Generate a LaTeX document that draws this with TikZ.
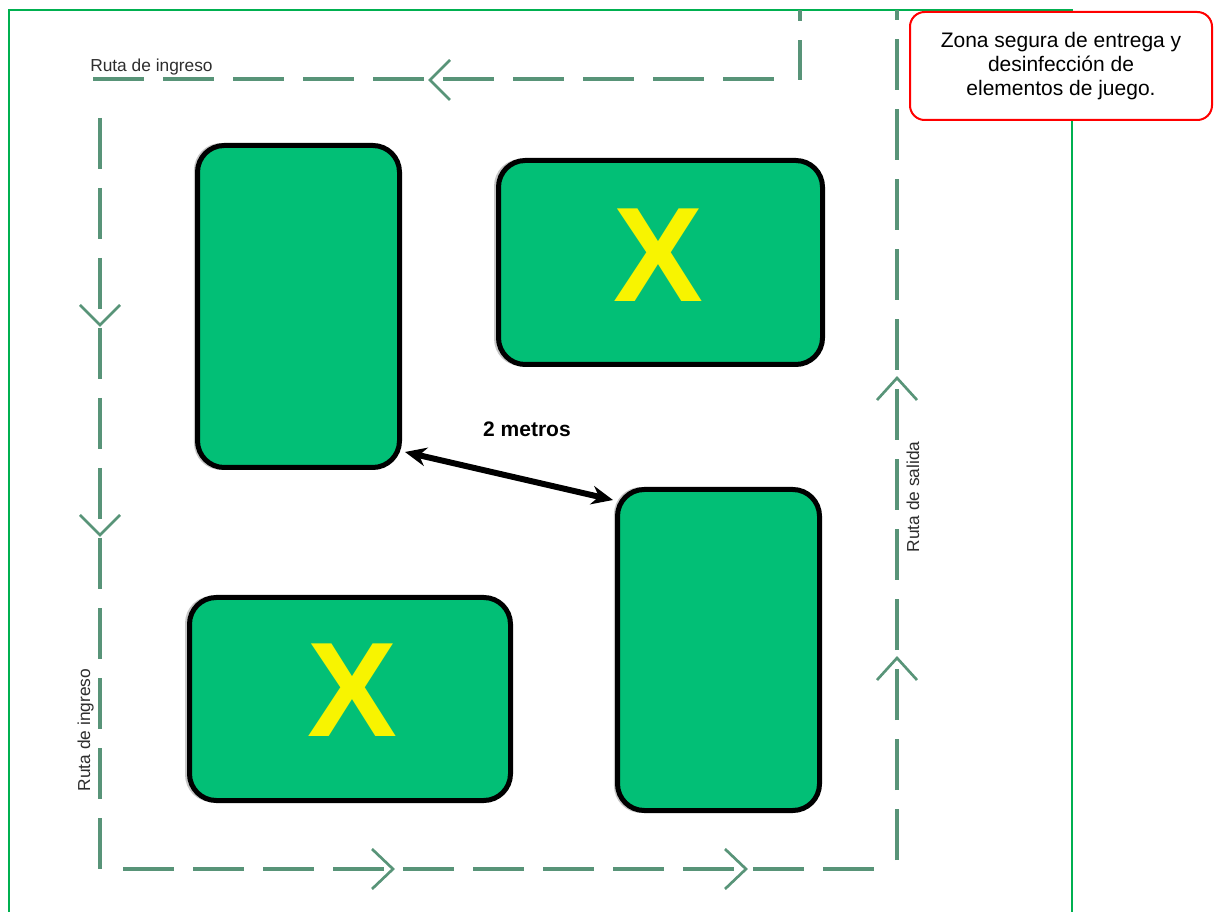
\documentclass[tikz,border=0pt]{standalone}
\usepackage{fontspec}
\setmainfont{Liberation Sans}
\usetikzlibrary{arrows.meta,shadows}

\definecolor{marco}{RGB}{0,176,80}
\definecolor{verderuta}{RGB}{88,148,120}
\definecolor{verdemesa}{RGB}{2,191,118}
\definecolor{amarillo}{RGB}{248,244,0}
\definecolor{rotulo}{RGB}{45,45,45}

\begin{document}
\begin{tikzpicture}[x=0.75pt, y=-0.75pt,
  camino/.style={draw=verderuta, line width=3.2pt, dash pattern=on 38.25pt off 14.25pt},
  punta/.style={draw=verderuta, line width=2pt},
  mesa/.style={draw=black, line width=3.75pt, fill=verdemesa, rounded corners=20pt,
    inner sep=0pt, general shadow={fill=black!22, shadow xshift=-1.5pt, shadow scale=1.015}},
  equis/.style={text=amarillo, inner sep=0pt, font=\fontsize{101}{101}\selectfont\bfseries},
  etiqueta/.style={text=rotulo, inner sep=0pt, font=\fontsize{13}{15}\selectfont},
  zona/.style={draw=red, line width=1.5pt, fill=white, rounded corners=11pt, inner sep=0pt,
    align=center, minimum width=226.5pt, minimum height=81pt,
    font=\fontsize{15.75}{18}\selectfont}]
  \useasboundingbox (0,0) rectangle (1214,912);

  % Frame of the field
  \draw[marco, line width=1.5pt] (9,912) -- (9,10) -- (1072,10) -- (1072,912);

  % Routes
  \draw[camino] (93,79) -- (776,79);
  \draw[camino, dash phase=8.25pt] (800,80) -- (800,10);
  \draw[camino] (100,118) -- (100,873);
  \draw[camino] (123,869) -- (875,869);
  \draw[camino] (897,860) -- (897,10);

  % Direction marks
  \draw[punta] (450,60) -- (430,80) -- (450,100);
  \foreach \y in {325,535}
    \draw[punta] (80,\y-20) -- (100,\y) -- (120,\y-20);
  \foreach \x in {393,746}
    \draw[punta] (\x-21,849) -- (\x,869) -- (\x-21,889);
  \foreach \y in {378,658}
    \draw[punta] (877,\y+22) -- (897,\y) -- (917,\y+22);

  % Route labels
  \node[etiqueta, anchor=base west] (rutaA) at (90,72) {Ruta de ingreso};
  \node[etiqueta, anchor=base, rotate=90] (rutaB) at (90,730) {Ruta de ingreso};
  \node[etiqueta, anchor=base, rotate=90] (rutaC) at (919,497) {Ruta de salida};

  % Tables
  \node[mesa, minimum width=151.5pt, minimum height=241.5pt] (mesaA) at (298.5,306.5) {};
  \node[mesa, minimum width=243pt, minimum height=153pt] (mesaB) at (660.5,262.5) {};
  \node[mesa, minimum width=240.75pt, minimum height=152.25pt] (mesaC) at (350,699) {};
  \node[mesa, minimum width=151.5pt, minimum height=240.75pt] (mesaD) at (718.5,650) {};
  \node[equis] (equisB) at (658,255) {X};
  \node[equis] (equisC) at (352,690) {X};

  % Distance between tables
  \coordinate (dA) at (405,452);
  \coordinate (dD) at (613,500);
  \draw[line width=4.5pt, {Stealth[length=16pt,width=14pt]}-{Stealth[length=16pt,width=14pt]}] (dA) -- (dD);
  \node[anchor=base, inner sep=0pt, font=\fontsize{15.75}{18}\selectfont\bfseries] (metros) at (527,437) {2 metros};

  % Safe zone note
  \node[zona] (nota) at (1061,66) {Zona segura de entrega y\\desinfección de\\elementos de juego.};
\end{tikzpicture}
\end{document}
